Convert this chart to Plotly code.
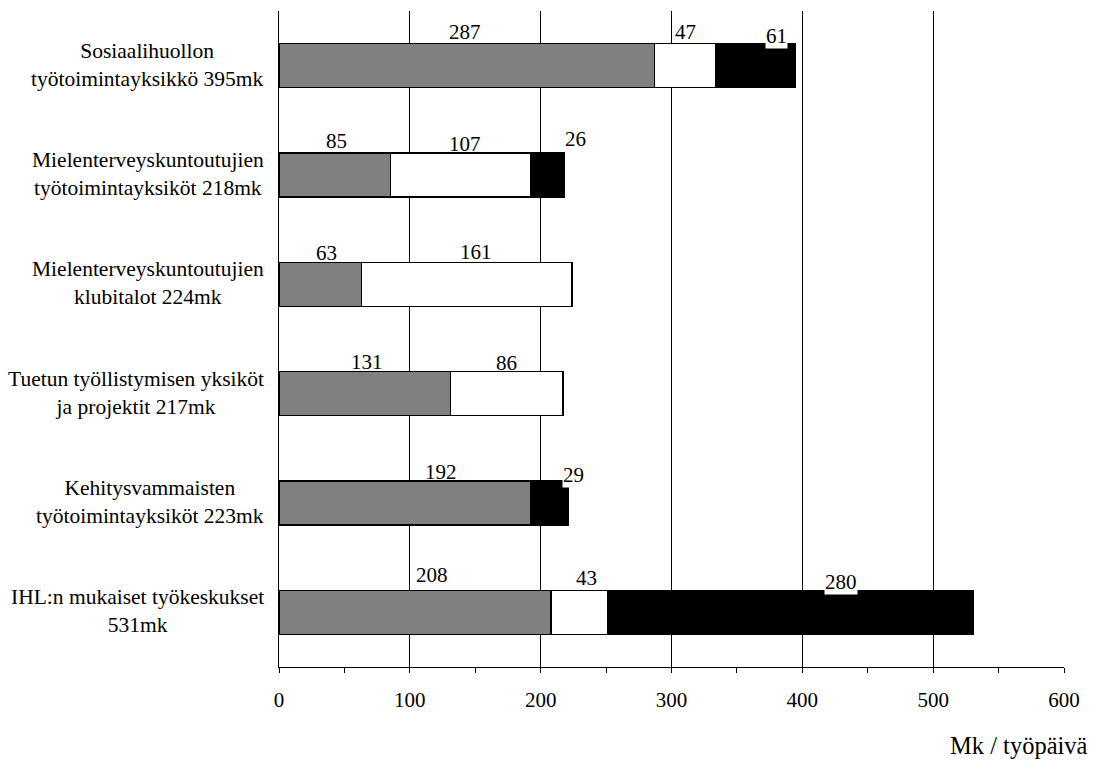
import plotly.graph_objects as go

categories = [
    "Sosiaalihuollon<br>työtoimintayksikkö 395mk",
    "Mielenterveyskuntoutujien<br>työtoimintayksiköt 218mk",
    "Mielenterveyskuntoutujien<br>klubitalot 224mk",
    "Tuetun työllistymisen yksiköt<br>ja projektit 217mk",
    "Kehitysvammaisten<br>työtoimintayksiköt 223mk",
    "IHL:n mukaiset työkeskukset<br>531mk",
]
grey_vals = [287, 85, 63, 131, 192, 208]
white_vals = [47, 107, 161, 86, 0, 43]
black_vals = [61, 26, 0, 0, 29, 280]
x_ticks = [0, 100, 200, 300, 400, 500, 600]

# label pixel nudges (presentation only): (xshift, yshift, white box) per segment
label_shift = {
    (0, 0): (-2, 0, False), (0, 1): (0, 0, False), (0, 2): (21, -4, True),
    (1, 0): (2, 0, False), (1, 1): (5, -3, False), (1, 2): (28, 2, False),
    (2, 0): (6, -3, False), (2, 1): (9, -2, False),
    (3, 0): (2, -2, False), (3, 1): (0, -3, False),
    (4, 0): (36, -3, False), (4, 1): (24, -6, True),
    (5, 0): (17, 3, False), (5, 1): (7, 0, False), (5, 2): (50, -4, True),
}

FONT = "Liberation Serif, Times New Roman, serif"
idx = list(range(len(categories)))

fig = go.Figure()
series = [(grey_vals, "#808080"), (white_vals, "#ffffff"), (black_vals, "#000000")]
for vals, col in series:
    fig.add_trace(go.Bar(
        y=idx, x=vals, orientation="h", width=0.4,
        marker=dict(color=col, line=dict(color="black", width=1.3)),
        showlegend=False, hoverinfo="x",
    ))

annotations = []
for i in idx:
    start = 0
    for s, (vals, col) in enumerate(series):
        v = vals[i]
        if v > 0:
            k = sum(1 for t in range(s) if series[t][0][i] > 0)
            xs, ys, wb = label_shift.get((i, k), (0, 0, False))
            annotations.append(dict(
                x=start + v / 2, y=i - 0.2, xref="x", yref="y",
                text=str(v), showarrow=False, yanchor="bottom",
                xshift=xs, yshift=ys - 1,
                bgcolor="white" if wb else "rgba(0,0,0,0)", borderpad=0,
                font=dict(family=FONT, size=21, color="black"),
            ))
        start += v

for i, c in enumerate(categories):
    annotations.append(dict(
        x=-0.016, y=i, xref="paper", yref="y", text=c, showarrow=False,
        xanchor="right", yanchor="middle", align="center", yshift=1,
        font=dict(family=FONT, size=21.5, color="black"),
    ))

annotations.append(dict(
    x=1.033, y=-0.119, xref="paper", yref="paper", text="Mk / työpäivä",
    showarrow=False, xanchor="right", yanchor="middle",
    font=dict(family=FONT, size=24.5, color="black"),
))

fig.update_layout(
    barmode="stack",
    width=1090, height=753,
    margin=dict(l=271, r=34, t=3, b=94),
    paper_bgcolor="white", plot_bgcolor="white",
    annotations=annotations,
    xaxis=dict(
        range=[0, 600], tickvals=x_ticks, ticktext=[str(t) for t in x_ticks],
        showgrid=True, gridcolor="black", gridwidth=1,
        showline=True, linecolor="black", linewidth=1.3,
        ticks="outside", ticklen=5, tickcolor="black", tickwidth=1.3,
        ticklabelstandoff=9,
        minor=dict(dtick=50, tick0=0, ticks="outside", ticklen=5, tickcolor="black", showgrid=False),
        tickfont=dict(family=FONT, size=21, color="black"),
        zeroline=False, fixedrange=True,
    ),
    yaxis=dict(
        range=[5.5, -0.5], showticklabels=False, showgrid=False,
        showline=True, linecolor="black", linewidth=1.3,
        zeroline=False, ticks="", fixedrange=True,
    ),
)

fig.write_html("out.html")
